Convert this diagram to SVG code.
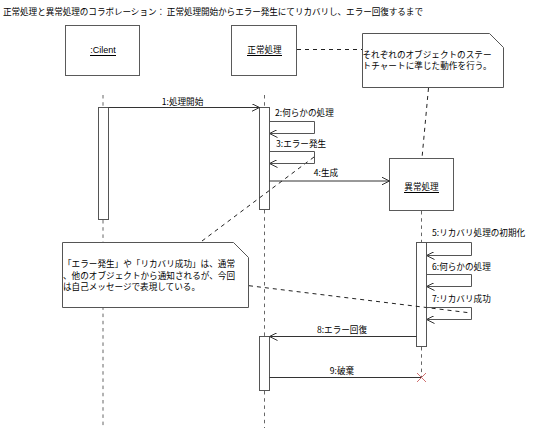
<svg xmlns="http://www.w3.org/2000/svg" width="541" height="429" viewBox="0 0 541 429">
<defs>
<style>
text{font-family:"Noto Sans CJK JP","Liberation Sans",sans-serif;font-size:8.6px;fill:#000}
.lat{font-family:"Liberation Sans","Noto Sans CJK JP",sans-serif;font-size:9px}
.obj{fill:#fff;stroke:#5a5a5a;stroke-width:1}
.bar{fill:#fff;stroke:#555;stroke-width:1}
.note{fill:#fff;stroke:#555;stroke-width:1}
.life{stroke:#666;stroke-width:1;stroke-dasharray:3.5 3.7;fill:none}
.msg{stroke:#333;stroke-width:1;fill:none}
.self{stroke:#555;stroke-width:1;fill:none}
.anchor{stroke:#222;stroke-width:1;stroke-dasharray:4 4;fill:none}
.ul{stroke:#000;stroke-width:1}
</style>
<marker id="open" viewBox="0 0 8 8" refX="8" refY="4" markerWidth="8" markerHeight="8" markerUnits="userSpaceOnUse" orient="auto">
<path d="M0,0 L8,4 L0,8" fill="none" stroke="#333" stroke-width="1"/>
</marker>
</defs>
<rect width="541" height="429" fill="#fff"/>
<text x="3" y="15" textLength="420" lengthAdjust="spacing">正常処理と異常処理のコラボレーション： 正常処理開始からエラー発生にてリカバリし、エラー回復するまで</text>

<g id="lifelines">
<line class="life" x1="103" y1="95" x2="103" y2="107"/>
<line class="life" x1="103" y1="220" x2="103" y2="428"/>
<line class="life" x1="264.5" y1="95" x2="264.5" y2="107"/>
<line class="life" x1="264.5" y1="210" x2="264.5" y2="336"/>
<line class="life" x1="264.5" y1="391" x2="264.5" y2="428"/>
<line class="life" x1="421.5" y1="211" x2="421.5" y2="242"/>
<line class="life" x1="421.5" y1="347" x2="421.5" y2="377"/>
</g>

<g id="client">
<rect class="obj" x="65.5" y="25.5" width="74" height="50"/>
<text class="lat" x="103" y="53" text-anchor="middle">:Cilent</text>
<line class="ul" x1="90" y1="55.5" x2="116" y2="55.5"/>
<rect class="bar" x="98.5" y="107.5" width="10" height="112"/>
</g>

<g id="seijou">
<rect class="obj" x="231.5" y="25.5" width="65" height="50"/>
<text x="264.5" y="53.3" text-anchor="middle">正常処理</text>
<line class="ul" x1="247" y1="55.5" x2="282" y2="55.5"/>
<rect class="bar" x="259.5" y="107.5" width="10" height="102"/>
<rect class="bar" x="259.5" y="336.5" width="10" height="54"/>
</g>

<g id="ijou">
<rect class="obj" x="389.5" y="158.5" width="64" height="52"/>
<text x="421.5" y="190" text-anchor="middle">異常処理</text>
<line class="ul" x1="404" y1="192.5" x2="439" y2="192.5"/>
<rect class="bar" x="416.5" y="242.5" width="10" height="104"/>
<path d="M417,373 L426,382 M426,373 L417,382" stroke="#d07070" stroke-width="1" fill="none"/>
</g>

<g id="note-top">
<path class="note" d="M362.5,33.5 L489.5,33.5 L503.5,47.5 L503.5,87.5 L362.5,87.5 Z"/>
<text x="362.5" y="58.3" textLength="129" lengthAdjust="spacing">それぞれのオブジェクトのステー</text>
<text x="362.5" y="69.3" textLength="129" lengthAdjust="spacing">トチャートに準じた動作を行う。</text>
</g>

<g id="note-bottom">
<path class="note" d="M62.5,242.5 L233.5,242.5 L248.5,257.5 L248.5,307.5 L62.5,307.5 Z"/>
<text x="63" y="267.3" textLength="172" lengthAdjust="spacing">「エラー発生」や「リカバリ成功」は、通常</text>
<text x="63" y="278.5" textLength="172" lengthAdjust="spacing">、他のオブジェクトから通知されるが、今回</text>
<text x="63" y="289.7" textLength="137" lengthAdjust="spacing">は自己メッセージで表現している。</text>
</g>

<g id="connectors">
<line class="anchor" x1="297" y1="49.5" x2="362" y2="49.5"/>
<line class="anchor" x1="428.5" y1="88" x2="422" y2="158"/>
<line class="anchor" x1="314" y1="157" x2="200" y2="242.5"/>
<line class="anchor" x1="249" y1="285.7" x2="471" y2="313"/>

<line class="msg" x1="108.5" y1="107.5" x2="259.5" y2="107.5" marker-end="url(#open)"/>
<text x="182.5" y="105" text-anchor="middle">1:処理開始</text>

<path class="self" d="M269.5,121.5 H314.5 V133.5 H269.5" marker-end="url(#open)"/>
<text x="275" y="116">2:何らかの処理</text>

<path class="self" d="M269.5,151.5 H314.5 V163.5 H269.5" marker-end="url(#open)"/>
<text x="276" y="146.6">3:エラー発生</text>

<line class="msg" x1="269.5" y1="181" x2="389.5" y2="181" marker-end="url(#open)"/>
<text x="326" y="176.3" text-anchor="middle">4:生成</text>

<path class="self" d="M426.5,242.5 H471.5 V255.5 H426.5" marker-end="url(#open)"/>
<text x="432" y="236">5:リカバリ処理の初期化</text>

<path class="self" d="M426.5,274.5 H471.5 V286.5 H426.5" marker-end="url(#open)"/>
<text x="432" y="270">6:何らかの処理</text>

<path class="self" d="M426.5,307.5 H471.5 V319.5 H426.5" marker-end="url(#open)"/>
<text x="432" y="301.6">7:リカバリ成功</text>

<line class="msg" x1="416.5" y1="336.5" x2="269.5" y2="336.5" marker-end="url(#open)"/>
<text x="342" y="333.3" text-anchor="middle">8:エラー回復</text>

<line class="msg" x1="269.5" y1="377.5" x2="421" y2="377.5"/>
<text x="342" y="374" text-anchor="middle">9:破棄</text>
</g>
</svg>
